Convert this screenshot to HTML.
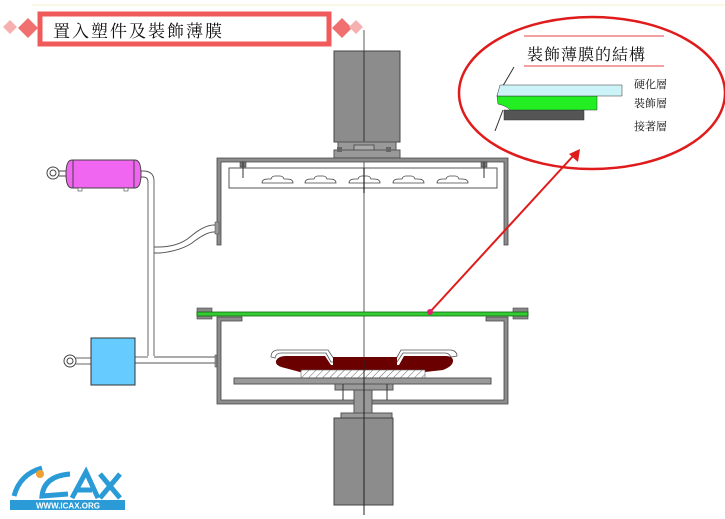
<!DOCTYPE html>
<html><head><meta charset="utf-8"><style>
html,body{margin:0;padding:0;background:#fff;}
svg{display:block;}
text{font-family:"Liberation Serif","Noto Serif CJK SC","Noto Sans CJK TC",serif;}
</style></head><body>
<svg width="725" height="519" viewBox="0 0 725 519" xmlns="http://www.w3.org/2000/svg">
<defs>
<pattern id="hat" width="5" height="5" patternUnits="userSpaceOnUse" patternTransform="rotate(45)">
<rect width="5" height="5" fill="#fff"/><line x1="0" y1="0" x2="0" y2="5" stroke="#666" stroke-width="1"/>
</pattern>
</defs>
<!-- header -->
<line x1="32" y1="5" x2="725" y2="5" stroke="#f5f0c8" stroke-width="1"/>
<polygon points="10,20 17,27 10,34 3,27" fill="#f7b0b0"/>
<polygon points="28,18 38,28 28,38 18,28" fill="#f06f6f"/>
<polygon points="342,18 352,28 342,38 332,28" fill="#f06f6f"/>
<polygon points="356,20 363,27 356,34 349,27" fill="#f7b0b0"/>
<rect x="40" y="14" width="289" height="30" fill="#fff" stroke="#f05a5a" stroke-width="5"/>
<text x="53" y="37" font-size="17" fill="#111" letter-spacing="2">置入塑件及裝飾薄膜</text>

<!-- center line -->
<line x1="364" y1="30" x2="364" y2="515" stroke="#333" stroke-width="0.8"/>

<!-- top motor -->
<rect x="334" y="51" width="66" height="91" fill="#8c8c8c" stroke="#444"/>
<line x1="364" y1="51" x2="364" y2="142" stroke="#333"/>
<rect x="338" y="142" width="58" height="8" fill="#999" stroke="#555"/>
<rect x="354" y="145" width="20" height="5" fill="#aaa" stroke="#555"/>
<rect x="334" y="150" width="66" height="8" fill="#999" stroke="#555"/>
<rect x="337" y="147" width="5" height="5" fill="#666"/>
<rect x="386" y="147" width="5" height="5" fill="#666"/>

<!-- upper chamber -->
<path d="M217,245 V158 H508 V245 H504 V162 H221 V245 Z" fill="#8c8c8c" stroke="#444" stroke-width="0.8"/>
<rect x="229" y="168" width="268" height="20" fill="#fff" stroke="#555"/>
<g fill="#fff" stroke="#444" stroke-width="0.8">
<path d="M262,183 q0,-4 6,-4 h3 q1,-3 4,-3 h5 q3,0 4,3 h3 q6,0 6,4 Z"/>
<path d="M305,183 q0,-4 6,-4 h3 q1,-3 4,-3 h5 q3,0 4,3 h3 q6,0 6,4 Z"/>
<path d="M349,183 q0,-4 6,-4 h3 q1,-3 4,-3 h5 q3,0 4,3 h3 q6,0 6,4 Z"/>
<path d="M393,183 q0,-4 6,-4 h3 q1,-3 4,-3 h5 q3,0 4,3 h3 q6,0 6,4 Z"/>
<path d="M437,183 q0,-4 6,-4 h3 q1,-3 4,-3 h5 q3,0 4,3 h3 q6,0 6,4 Z"/>
</g>
<rect x="240" y="162" width="6" height="5" fill="#777" stroke="#333" stroke-width="0.5"/>
<line x1="243" y1="162" x2="243" y2="178" stroke="#333"/>
<rect x="481" y="162" width="6" height="5" fill="#777" stroke="#333" stroke-width="0.5"/>
<line x1="484" y1="162" x2="484" y2="178" stroke="#333"/>
<line x1="364" y1="168" x2="364" y2="193" stroke="#222" stroke-width="1.2"/>

<!-- pipes -->
<g fill="none" stroke="#555" stroke-width="0.9">
<path d="M140,171 h3 q11,0 11,10 V356"/>
<path d="M140,177 h3 q5,0 5,5 V356"/>
<path d="M154,247 h4 q20,0 32,-10 q14,-12 24,-12 h3"/>
<path d="M154,253 h6 q20,-2 32,-10 q14,-11 22,-11 h3"/>
<line x1="135" y1="357" x2="148" y2="357"/>
<line x1="154" y1="357" x2="217" y2="357"/>
<line x1="135" y1="363" x2="217" y2="363"/>
<line x1="76" y1="358" x2="91" y2="358"/>
<line x1="76" y1="364" x2="91" y2="364"/>
</g>
<rect x="215" y="222" width="4" height="12" fill="#999" stroke="#444" stroke-width="0.5"/>
<rect x="215" y="355" width="4" height="12" fill="#999" stroke="#444" stroke-width="0.5"/>
<!-- tank -->
<path d="M72,160 H135 q6,0 6,14 q0,14 -6,14 H72 q-6,0 -6,-14 q0,-14 6,-14 Z" fill="#f066f0" stroke="#444"/>
<line x1="73" y1="160" x2="73" y2="188" stroke="#444"/>
<line x1="134" y1="160" x2="134" y2="188" stroke="#444"/>
<rect x="78" y="188" width="4" height="3" fill="#fff" stroke="#444" stroke-width="0.6"/>
<rect x="124" y="188" width="4" height="3" fill="#fff" stroke="#444" stroke-width="0.6"/>
<circle cx="53" cy="173" r="6" fill="#fff" stroke="#444"/><circle cx="53" cy="173" r="3" fill="#fff" stroke="#444"/>
<line x1="59" y1="171" x2="66" y2="171" stroke="#444"/><line x1="59" y1="176" x2="66" y2="176" stroke="#444"/>
<!-- blue box -->
<rect x="91" y="338" width="44" height="47" fill="#66ccff" stroke="#333"/>
<circle cx="70" cy="361" r="6" fill="#fff" stroke="#444"/><circle cx="70" cy="361" r="3" fill="#fff" stroke="#444"/>

<!-- green sheet & clamps -->
<rect x="197" y="308" width="15" height="11" fill="#888" stroke="#444" stroke-width="0.6"/>
<rect x="513" y="308" width="15" height="11" fill="#888" stroke="#444" stroke-width="0.6"/>
<rect x="197" y="312" width="331" height="4" fill="#33cc33" stroke="#116611" stroke-width="0.8"/>

<!-- lower chamber -->
<path d="M217,404 V317 H242 V321 H221 V400 H504 V321 H486 V317 H508 V404 Z" fill="#8c8c8c" stroke="#444" stroke-width="0.8"/>
<!-- mold -->
<path d="M271,357 q0,-6 6,-7 H328 l6,9 H396 l5,-9 H451 q6,1 6,6 L451,357 Q449,353 445,353 H403 L397,362 H331 L326,353 H281 Q276,353 275,358 Z" fill="#fff" stroke="#555" stroke-width="0.8"/>
<path d="M276,361 q2,-5 10,-5 H325 l6,9 H333 V357 H397 V365 H399 l5,-9 H446 q7,0 7,5 q0,5 -10,9 L425,372 H300 L285,368 q-10,-2 -9,-7 Z" fill="#6b0000"/>
<rect x="301" y="370" width="124" height="8" fill="url(#hat)" stroke="#666" stroke-width="0.6"/>
<rect x="234" y="378" width="257" height="6" fill="#999" stroke="#555"/>
<rect x="335" y="384" width="58" height="6" fill="#999" stroke="#555"/>
<rect x="354" y="390" width="18" height="23" fill="#999" stroke="#555"/>
<rect x="341" y="413" width="51" height="5" fill="#999" stroke="#555"/>
<rect x="334" y="418" width="59" height="87" fill="#8c8c8c" stroke="#444"/>
<line x1="364" y1="360" x2="364" y2="515" stroke="#222"/>
<line x1="343" y1="384" x2="343" y2="400" stroke="#333"/>
<line x1="387" y1="384" x2="387" y2="400" stroke="#333"/>

<!-- ellipse callout -->
<ellipse cx="592" cy="93" rx="133" ry="76" fill="none" stroke="#e01b1b" stroke-width="2.5"/>
<line x1="524" y1="36" x2="664" y2="36" stroke="#e84040" stroke-width="1"/>
<line x1="524" y1="66" x2="664" y2="66" stroke="#e84040" stroke-width="1"/>
<text x="527" y="60" font-size="16" fill="#111" letter-spacing="1">裝飾薄膜的結構</text>
<line x1="514" y1="67" x2="497" y2="96" stroke="#333"/>
<line x1="503" y1="110" x2="495" y2="131" stroke="#333"/>
<rect x="504" y="110" width="80" height="10" fill="#555" stroke="#333" stroke-width="0.5"/>
<path d="M497,96 H597 V110 H510 q-3,-4 -12,-6 Z" fill="#22ee22" stroke="#333" stroke-width="0.5"/>
<path d="M500,85 H622 V96 H497 Z" fill="#ccf4f8" stroke="#333" stroke-width="0.5"/>
<text x="634" y="88" font-size="11" fill="#111">硬化層</text>
<text x="634" y="107" font-size="11" fill="#111">裝飾層</text>
<text x="634" y="130" font-size="11" fill="#111">接著層</text>
<!-- arrow -->
<line x1="430" y1="312" x2="574" y2="155" stroke="#e01b1b" stroke-width="2"/>
<polygon points="580,149 578,162 569,154" fill="#e01b1b"/>
<circle cx="430" cy="312" r="3" fill="#e0206a"/>

<!-- logo -->
<g>
<path d="M14,496 q6,-22 28,-28" fill="none" stroke="#2a9bd6" stroke-width="5"/>
<circle cx="40" cy="474" r="4" fill="#f0a030"/>
<path d="M70,474 q-26,2 -28,22 l26,-2" fill="none" stroke="#2a9bd6" stroke-width="5"/>
<path d="M72,498 l14,-26 l12,26 M78,490 h14" fill="none" stroke="#2a9bd6" stroke-width="5"/>
<path d="M100,474 l20,24 M120,474 l-20,24" fill="none" stroke="#2a9bd6" stroke-width="5"/>
<rect x="10" y="500" width="115" height="10" fill="#2a9bd6"/>
<text x="68" y="508.5" font-size="8" font-weight="bold" fill="#fff" text-anchor="middle" style="font-family:'Liberation Sans',sans-serif">WWW.ICAX.ORG</text>
</g>
</svg>
</body></html>
